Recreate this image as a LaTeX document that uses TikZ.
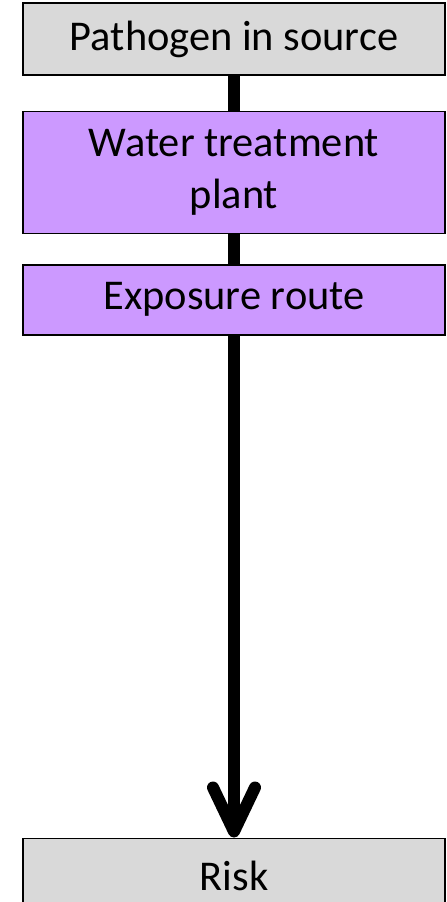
\documentclass[tikz,border=0pt]{standalone}
\usepackage{fontspec}
\setmainfont{Carlito}
\usepackage{tikz}
\usetikzlibrary{arrows.meta,positioning}
\usepackage{xcolor}
\definecolor{boxgrey}{HTML}{D9D9D9}
\definecolor{boxpurple}{HTML}{CC99FF}

\begin{document}
\begin{tikzpicture}[main/.style={draw, line width=0.7pt, minimum width=211pt, inner sep=0pt, align=center, font=\fontsize{21.2}{26}\selectfont},
	greybox/.style={main, fill=boxgrey}, purplebox/.style={main, fill=boxpurple}, link/.style={line width=6pt}]
	\useasboundingbox (0,0) rectangle (223pt,-451pt);
	\node[greybox, minimum height=36pt] (1) at (117pt,-19.5pt) {Pathogen in source};
	\node[purplebox, minimum height=61pt] (2) [below=17.5pt of 1] {Water treatment\\plant};
	\node[purplebox, minimum height=35pt] (3) [below=15pt of 2] {Exposure route};
	\node[greybox, minimum height=38pt] (4) [below=251pt of 3] {Risk};
	\draw[link] (1) -- (2);
	\draw[link] (2) -- (3);
	\draw[link, -{Straight Barb[length=22pt, width=21pt, round]}] (3) -- (4);
	\end{tikzpicture}
\end{document}
